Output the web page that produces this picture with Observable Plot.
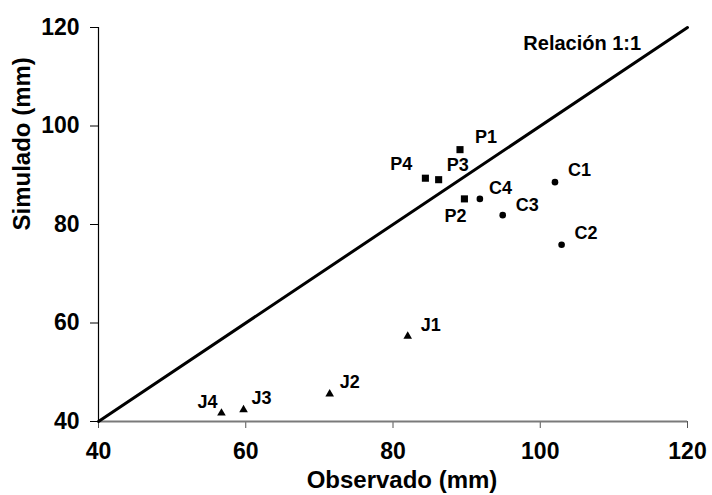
<!DOCTYPE html>
<html>
<head>
<meta charset="utf-8">
<script src="https://cdn.jsdelivr.net/npm/d3@7"></script>
<script src="https://cdn.jsdelivr.net/npm/@observablehq/plot@0.6"></script>
<style>
  body { margin: 0; background: #fff; }
  #chart svg { display: block; }
</style>
</head>
<body>
<div id="chart"></div>
<script>
// Observed vs simulated values (mm) for each site
const names     = ["P1", "P2", "P3", "P4", "C1", "C2", "C3", "C4", "J1", "J2", "J3", "J4"];
const groups    = ["P", "P", "P", "P", "C", "C", "C", "C", "J", "J", "J", "J"];
const observado = [89.1, 89.7, 86.2, 84.4, 102.0, 102.9, 94.9, 91.8, 82.0, 71.4, 59.7, 56.7];
const simulado  = [95.2, 85.2, 89.1, 89.4, 88.6, 75.9, 81.9, 85.2, 57.3, 45.6, 42.4, 41.7];

// Axis ticks and the 1:1 reference line
const xTicks = [40, 60, 80, 100, 120];
const yTicks = [40, 60, 80, 100, 120];
const oneToOne = [40, 120];
const oneToOneLabel = "Relación 1:1";

const rows = names.map((name, i) => ({
  name, group: groups[i], obs: observado[i], sim: simulado[i]
}));

// Where each point label sits relative to its marker
const placement = {
  P1: {textAnchor: "start",  dx: 15,  dy: -12.5},
  P2: {textAnchor: "middle", dx: -9,  dy: 17},
  P3: {textAnchor: "start",  dx: 8,   dy: -14},
  P4: {textAnchor: "end",    dx: -13, dy: -14},
  C1: {textAnchor: "start",  dx: 13,  dy: -12},
  C2: {textAnchor: "start",  dx: 13,  dy: -11},
  C3: {textAnchor: "start",  dx: 13,  dy: -10},
  C4: {textAnchor: "start",  dx: 9,   dy: -10.5},
  J1: {textAnchor: "start",  dx: 13,  dy: -11},
  J2: {textAnchor: "start",  dx: 10,  dy: -12},
  J3: {textAnchor: "start",  dx: 8,   dy: -11},
  J4: {textAnchor: "end",    dx: -4,  dy: -11}
};

const symbolFor = {P: {symbol: "square", r: 4}, C: {symbol: "circle", r: 3.3}, J: {symbol: "triangle", r: 3.2}};

const labelMarks = rows.map(d => Plot.text([d], {
  x: "obs", y: "sim", text: "name",
  ...placement[d.name],
  lineAnchor: "middle",
  fontSize: 18, fontWeight: "bold", fill: "#000"
}));

const dotMarks = ["P", "C", "J"].map(g => Plot.dot(rows.filter(d => d.group === g), {
  x: "obs", y: "sim", ...symbolFor[g], fill: "#000", stroke: "none"
}));

const chart = Plot.plot({
  width: 712,
  height: 495,
  marginLeft: 98,
  marginRight: 25,
  marginTop: 27,
  marginBottom: 74,
  style: {fontFamily: "'Liberation Sans', Arial, sans-serif", background: "#fff", color: "#000"},
  x: {domain: [40, 120]},
  y: {domain: [40, 120]},
  marks: [
    Plot.axisY(yTicks, {tickSize: 8, tickPadding: 11, fontSize: 23, fontWeight: "bold", stroke: "#000", fill: "#000", label: null}),
    Plot.axisX(xTicks, {tickSize: 7, tickPadding: 14, fontSize: 23, fontWeight: "bold", stroke: "#555", fill: "#000", label: null}),
    Plot.ruleY([40], {stroke: "#7a7a7a", strokeWidth: 2}),
    Plot.ruleX([40], {stroke: "#000", strokeWidth: 1.2}),
    Plot.line(oneToOne.map(v => ({v})), {x: "v", y: "v", stroke: "#000", strokeWidth: 3}),
    Plot.text([oneToOneLabel], {x: 97.7, y: 116.8, textAnchor: "start", lineAnchor: "middle", fontSize: 20, fontWeight: "bold", fill: "#000"}),
    ...dotMarks,
    ...labelMarks,
    Plot.text(["Observado (mm)"], {frameAnchor: "bottom", dx: 9, dy: 59, lineAnchor: "middle", fontSize: 24, fontWeight: "bold", fill: "#000"}),
    Plot.text(["Simulado (mm)"], {frameAnchor: "left", dx: -76, dy: 6, rotate: -90, lineAnchor: "middle", fontSize: 24, fontWeight: "bold", fill: "#000"})
  ]
});

document.getElementById("chart").appendChild(chart);
</script>
</body>
</html>
